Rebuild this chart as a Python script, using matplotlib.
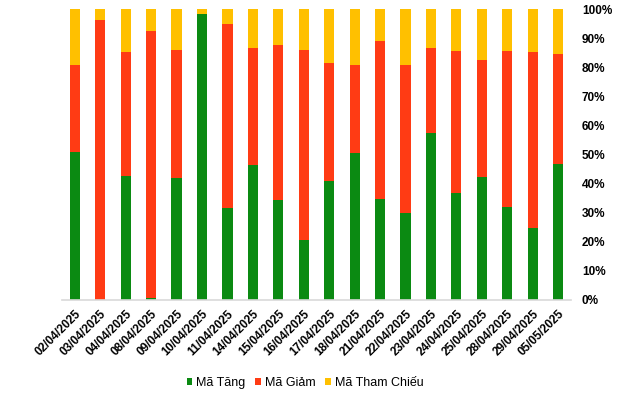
import matplotlib
matplotlib.use("Agg")
from matplotlib import pyplot as plt
from matplotlib.ticker import PercentFormatter

plt.rcParams['font.family'] = ['Liberation Sans', 'DejaVu Sans']

dates = ["02/04/2025", "03/04/2025", "04/04/2025", "08/04/2025", "09/04/2025",
         "10/04/2025", "11/04/2025", "14/04/2025", "15/04/2025", "16/04/2025",
         "17/04/2025", "18/04/2025", "21/04/2025", "22/04/2025", "23/04/2025",
         "24/04/2025", "25/04/2025", "28/04/2025", "29/04/2025", "05/05/2025"]

# percent of codes
tang = [51.0, 0.0, 42.7, 0.8, 42.0, 98.3, 31.7, 46.4, 34.5, 20.7,
        40.7, 50.5, 34.7, 30.0, 57.4, 36.8, 42.3, 32.0, 24.7, 46.7]
giam = [29.8, 96.2, 42.5, 91.6, 43.9, 0.0, 63.1, 40.2, 53.1, 65.2,
        40.7, 30.3, 54.3, 50.8, 29.2, 48.8, 40.2, 53.6, 60.5, 37.8]
tham_chieu = [100 - a - b for a, b in zip(tang, giam)]

colors = {
    "Mã Tăng": '#0B8A12',
    "Mã Giảm": '#FF3B14',
    "Mã Tham Chiếu": '#FFC000',
}

fig = plt.figure(figsize=(6.4, 3.93), dpi=100)
ax = fig.add_axes([0.097, 0.237, 0.795, 0.74])

x = range(len(dates))
w = 0.4
ax.bar(x, tang, w, color=colors["Mã Tăng"], label="Mã Tăng")
ax.bar(x, giam, w, bottom=tang, color=colors["Mã Giảm"], label="Mã Giảm")
bottom2 = [a + b for a, b in zip(tang, giam)]
ax.bar(x, tham_chieu, w, bottom=bottom2, color=colors["Mã Tham Chiếu"], label="Mã Tham Chiếu")

ax.set_xlim(-0.5, len(dates) - 0.5)
ax.set_ylim(0, 100)
ax.set_yticks(range(0, 101, 10))
ax.yaxis.set_major_formatter(PercentFormatter(decimals=0))
ax.yaxis.tick_right()
ax.tick_params(axis='y', length=0, pad=8, labelsize=8.5)
ax.tick_params(axis='x', length=0, pad=6, labelsize=8.5)
for lbl in ax.get_yticklabels():
    lbl.set_fontweight('bold')

ax.set_xticks(list(x))
ax.set_xticklabels(dates, rotation=45, ha='right', rotation_mode='anchor', fontweight='bold')

for s in ["top", "left", "right"]:
    ax.spines[s].set_visible(False)
ax.spines["bottom"].set_color('#d9d9d9')
ax.spines["bottom"].set_linewidth(1.2)

fig.legend(loc='center', bbox_to_anchor=(305 / 640, 1 - 383 / 393), ncol=3, frameon=False,
           fontsize=9, handlelength=0.45, handleheight=0.45, handletextpad=0.3, columnspacing=0.8)

fig.savefig("out.png", dpi=100)
